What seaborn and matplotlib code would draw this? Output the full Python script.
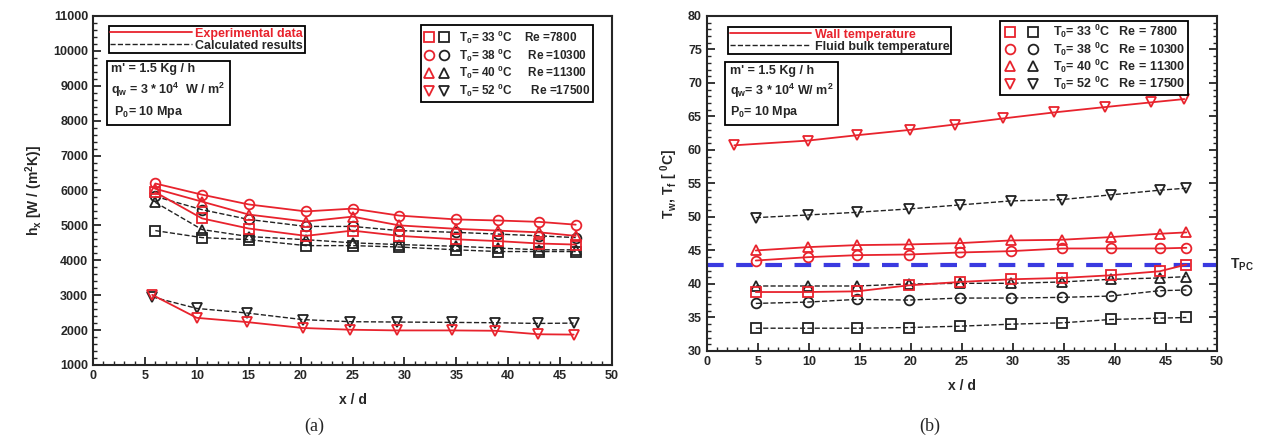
import numpy as np
import pandas as pd
import matplotlib
matplotlib.use("Agg")
import matplotlib.pyplot as plt
import seaborn as sns
from matplotlib.lines import Line2D
from matplotlib.legend_handler import HandlerTuple
from matplotlib.ticker import MultipleLocator

# ---------------- data: panel (a) heat transfer coefficient ----------------
xa = [6, 10.5, 15, 20.5, 25, 29.5, 35, 39, 43, 46.5]
xa_low = [5.7, 10, 14.8, 20.2, 24.8, 29.3, 34.6, 38.7, 42.9, 46.3]
ha_exp_38 = [6200, 5880, 5600, 5400, 5480, 5280, 5170, 5140, 5100, 5020]
ha_exp_40 = [6050, 5680, 5310, 5110, 5250, 5000, 4900, 4850, 4800, 4700]
ha_exp_33 = [5950, 5200, 4910, 4700, 4850, 4700, 4600, 4550, 4480, 4450]
ha_exp_52 = [3010, 2350, 2230, 2060, 2010, 1990, 1990, 1980, 1880, 1870]
ha_cal_38 = [5830, 5450, 5170, 4970, 4970, 4850, 4800, 4750, 4700, 4650]
ha_cal_40 = [5660, 4880, 4680, 4590, 4500, 4450, 4400, 4350, 4300, 4300]
ha_cal_33 = [4850, 4650, 4590, 4420, 4420, 4380, 4300, 4250, 4250, 4250]
ha_cal_52 = [2950, 2620, 2490, 2300, 2240, 2230, 2220, 2210, 2190, 2200]

# ---------------- data: panel (b) temperatures ----------------
xb = [4.8, 9.9, 14.7, 19.8, 24.8, 29.8, 34.8, 39.6, 44.4, 47]
xb_top = [2.7, 9.9, 14.7, 19.9, 24.3, 29, 34, 39, 43.5, 46.8]
tw_52 = [60.7, 61.4, 62.2, 63.0, 63.8, 64.7, 65.6, 66.4, 67.1, 67.6]
tw_40 = [45.0, 45.5, 45.8, 45.9, 46.1, 46.5, 46.6, 47.0, 47.5, 47.7]
tw_38 = [43.5, 44.0, 44.3, 44.4, 44.7, 44.9, 45.3, 45.3, 45.3, 45.4]
tw_33 = [38.8, 38.8, 38.9, 39.8, 40.3, 40.7, 40.9, 41.3, 41.9, 42.9]
tf_52 = [49.9, 50.3, 50.7, 51.2, 51.8, 52.4, 52.6, 53.3, 54.0, 54.3]
tf_40 = [39.7, 39.7, 39.7, 40.0, 40.1, 40.1, 40.3, 40.7, 40.9, 41.1]
tf_38 = [37.1, 37.3, 37.7, 37.6, 37.9, 37.9, 38.0, 38.2, 39.0, 39.1]
tf_33 = [33.4, 33.4, 33.4, 33.5, 33.7, 34.0, 34.2, 34.7, 34.9, 35.0]
t_pc = 42.9

legend_a = [r"$T_0$= 33 $^0$C    Re =7800", r"$T_0$= 38 $^0$C     Re =10300",
            r"$T_0$= 40 $^0$C     Re =11300", r"$T_0$= 52 $^0$C      Re =17500"]
legend_b = [r"$T_0$= 33 $^0$C   Re = 7800", r"$T_0$= 38 $^0$C   Re = 10300",
            r"$T_0$= 40 $^0$C   Re = 11300", r"$T_0$= 52 $^0$C   Re = 17500"]

RED = "#e8232d"
BLACK = "#222222"
BLUE = "#3a3ae0"

sns.set_style("ticks")
plt.rcParams['font.family'] = ['Liberation Sans', 'DejaVu Sans']
plt.rcParams['font.weight'] = 'bold'
plt.rcParams['mathtext.default'] = 'regular'
plt.rcParams['axes.linewidth'] = 1.5

fig = plt.figure(figsize=(12.69, 4.44), dpi=100)
axa = fig.add_axes([0.0733, 0.178, 0.409, 0.786])
axb = fig.add_axes([0.557, 0.2095, 0.402, 0.7545])


def draw(ax, x, y, color, marker, dashed):
    sns.lineplot(x=x, y=y, ax=ax, color=color, marker=marker, markersize=7,
                 markerfacecolor='none', markeredgecolor=color, markeredgewidth=1.3,
                 linewidth=1.0 if dashed else 1.3, linestyle='--' if dashed else '-',
                 sort=False, estimator=None)

# panel (a)
draw(axa, xa, ha_cal_38, BLACK, 'o', True)
draw(axa, xa, ha_cal_40, BLACK, '^', True)
draw(axa, xa, ha_cal_33, BLACK, 's', True)
draw(axa, xa_low, ha_cal_52, BLACK, 'v', True)
draw(axa, xa, ha_exp_38, RED, 'o', False)
draw(axa, xa, ha_exp_40, RED, '^', False)
draw(axa, xa, ha_exp_33, RED, 's', False)
draw(axa, xa_low, ha_exp_52, RED, 'v', False)

axa.set_xlim(0, 50)
axa.set_ylim(1000, 11000)
axa.xaxis.set_major_locator(MultipleLocator(5))
axa.xaxis.set_minor_locator(MultipleLocator(1))
axa.yaxis.set_major_locator(MultipleLocator(1000))
axa.yaxis.set_minor_locator(MultipleLocator(200))
axa.tick_params(which='both', direction='in', labelsize=9)
axa.tick_params(which='major', length=6, width=1.3)
axa.tick_params(which='minor', length=3, width=1)
axa.set_xlabel("x / d", fontsize=10, fontweight='bold', labelpad=8)
axa.set_ylabel(r"$h_x$ [W / (m$^2$K)]", fontsize=10, fontweight='bold', labelpad=6)
for lab in axa.get_xticklabels() + axa.get_yticklabels():
    lab.set_fontweight('bold')

h1 = [Line2D([], [], color=RED, lw=1.3), Line2D([], [], color=BLACK, lw=1.0, ls='--')]
leg1 = axa.legend(h1, ["Experimental data", "Calculated results"], loc='upper left',
                  bbox_to_anchor=(0.018, 0.99), fontsize=9, frameon=True, fancybox=False,
                  edgecolor='black', framealpha=1, handlelength=6.5, borderpad=0.15,
                  labelspacing=0.0, handletextpad=0.3)
leg1.get_frame().set_linewidth(1.3)
leg1.get_texts()[0].set_color(RED)
axa.add_artist(leg1)

mk = ['s', 'o', '^', 'v']
h2 = [(Line2D([], [], ls='none', marker=m, mfc='none', mec=RED, ms=7, mew=1.3),
       Line2D([], [], ls='none', marker=m, mfc='none', mec=BLACK, ms=7, mew=1.3)) for m in mk]
leg2 = axa.legend(h2, legend_a, loc='upper right', bbox_to_anchor=(0.975, 0.99),
                  handler_map={tuple: HandlerTuple(ndivide=None, pad=0.2)},
                  fontsize=8.5, frameon=True, fancybox=False, edgecolor='black',
                  framealpha=1, handlelength=2.2, borderpad=0.25, labelspacing=0.05,
                  handletextpad=0.8)
leg2.get_frame().set_linewidth(1.3)

axa.text(0.035, 0.865, "m' = 1.5 Kg / h\n$q_w$ = 3 * 10$^4$  W / m$^2$\n $P_0$= 10 Mpa",
         transform=axa.transAxes, fontsize=9, fontweight='bold', va='top', ha='left',
         linespacing=1.45,
         bbox=dict(boxstyle='square,pad=0.35', fc='white', ec='black', lw=1.3))

# panel (b)
axb.axhline(t_pc, color=BLUE, lw=3, ls=(0, (4, 3)))
draw(axb, xb, tf_52, BLACK, 'v', True)
draw(axb, xb, tf_40, BLACK, '^', True)
draw(axb, xb, tf_38, BLACK, 'o', True)
draw(axb, xb, tf_33, BLACK, 's', True)
draw(axb, xb_top, tw_52, RED, 'v', False)
draw(axb, xb, tw_40, RED, '^', False)
draw(axb, xb, tw_38, RED, 'o', False)
draw(axb, xb, tw_33, RED, 's', False)

axb.set_xlim(0, 50)
axb.set_ylim(30, 80)
axb.xaxis.set_major_locator(MultipleLocator(5))
axb.xaxis.set_minor_locator(MultipleLocator(1))
axb.yaxis.set_major_locator(MultipleLocator(5))
axb.yaxis.set_minor_locator(MultipleLocator(1))
axb.tick_params(which='both', direction='in', labelsize=9, right=True)
axb.tick_params(which='major', length=6, width=1.3)
axb.tick_params(which='minor', length=3, width=1)
axb.set_xlabel("x / d", fontsize=10, fontweight='bold', labelpad=8)
axb.set_ylabel(r"$T_w$, $T_f$ [ $^0$C]", fontsize=10, fontweight='bold', labelpad=6)
for lab in axb.get_xticklabels() + axb.get_yticklabels():
    lab.set_fontweight('bold')

h3 = [Line2D([], [], color=RED, lw=1.3), Line2D([], [], color=BLACK, lw=1.0, ls='--')]
leg3 = axb.legend(h3, ["Wall temperature", "Fluid bulk temperature"], loc='upper left',
                  bbox_to_anchor=(0.03, 0.985), fontsize=9, frameon=True, fancybox=False,
                  edgecolor='black', framealpha=1, handlelength=6.5, borderpad=0.12,
                  labelspacing=0.0, handletextpad=0.3)
leg3.get_frame().set_linewidth(1.3)
leg3.get_texts()[0].set_color(RED)
axb.add_artist(leg3)

h4 = [(Line2D([], [], ls='none', marker=m, mfc='none', mec=RED, ms=7, mew=1.3),
       Line2D([], [], ls='none', marker=m, mfc='none', mec=BLACK, ms=7, mew=1.3)) for m in mk]
leg4 = axb.legend(h4, legend_b, loc='upper right', bbox_to_anchor=(0.955, 1.005),
                  handler_map={tuple: HandlerTuple(ndivide=None, pad=0.8)},
                  fontsize=9, frameon=True, fancybox=False, edgecolor='black',
                  framealpha=1, handlelength=3.0, borderpad=0.2, labelspacing=0.0,
                  handletextpad=1.0)
leg4.get_frame().set_linewidth(1.3)

axb.text(0.045, 0.855, "m' = 1.5 Kg / h\n$q_w$= 3 * 10$^4$ W/ m$^2$\n$P_0$= 10 Mpa",
         transform=axb.transAxes, fontsize=9, fontweight='bold', va='top', ha='left',
         linespacing=1.4,
         bbox=dict(boxstyle='square,pad=0.35', fc='white', ec='black', lw=1.3))

axb.text(1.025, t_pc, r"T$_{PC}$", transform=axb.get_yaxis_transform(), fontsize=10,
         fontweight='bold', va='center', ha='left')

fig.text(0.248, 0.04, "(a)", fontsize=13, family='Liberation Serif', fontweight='normal',
         ha='center', va='center')
fig.text(0.733, 0.04, "(b)", fontsize=13, family='Liberation Serif', fontweight='normal',
         ha='center', va='center')

fig.savefig("out.png", dpi=100)
